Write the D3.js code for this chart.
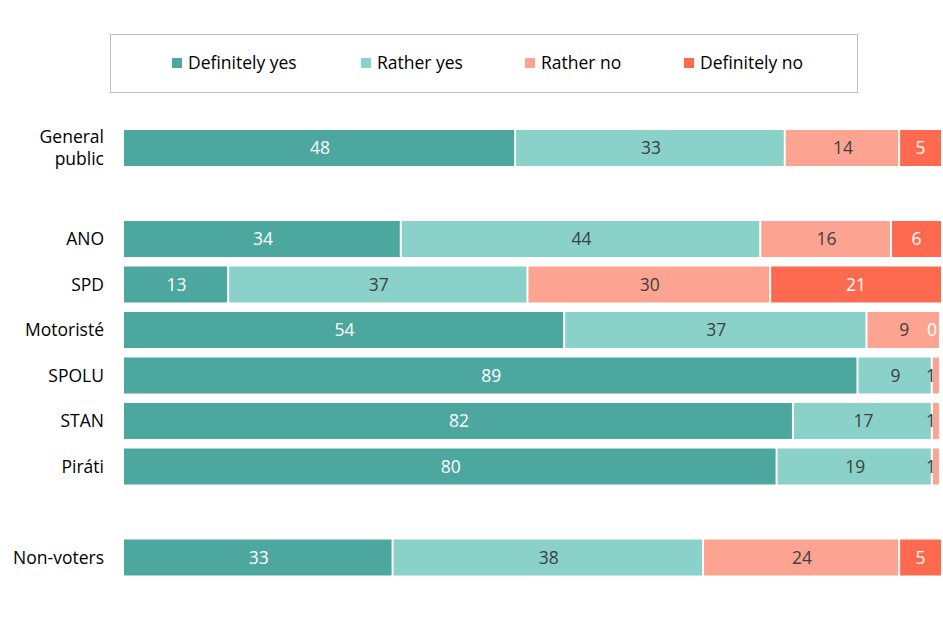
<!DOCTYPE html><html><head><meta charset="utf-8"><script src="https://cdn.jsdelivr.net/npm/d3@7"></script>
<style>body{margin:0;background:#fff}text{font-family:"Open Sans","Liberation Sans",sans-serif}</style></head><body>
<svg id="c" width="943" height="640"></svg>
<script>
const categories=[["General","public"],["ANO"],["SPD"],["Motoristé"],["SPOLU"],["STAN"],["Piráti"],["Non-voters"]];
const slots=[0,2,3,4,5,6,7,9];
const series=["Definitely yes","Rather yes","Rather no","Definitely no"];
const definitelyYes=[48,34,13,54,89,82,80,33];
const ratherYes=[33,44,37,37,9,17,19,38];
const ratherNo=[14,16,30,9,1,1,1,24];
const definitelyNo=[5,6,21,0,0,0,0,5];
const showZero=[false,false,false,true,false,false,false,false];
const colors=["#4ca79f","#8ad1ca","#fca491","#fe6a4f"];
const textColors=["#fff","#404040","#404040","#fff"];
const svg=d3.select("#c");
const x=d3.scaleLinear().domain([0,1]).range([124,941]);
const y=d3.scaleBand().domain(d3.range(10)).range([130,575.5]).paddingInner(0.209).paddingOuter(0);
const vals=[definitelyYes,ratherYes,ratherNo,definitelyNo];
const fs=17.5;
categories.forEach((cat,i)=>{
  const v=vals.map(a=>a[i]);const tot=d3.sum(v);
  const yy=y(slots[i]),h=y.bandwidth(),cy=yy+h/2;
  let cum=0;
  v.forEach((d,j)=>{
    const x0=x(cum/tot),x1=x((cum+d)/tot);cum+=d;
    if(d>0)svg.append("rect").attr("x",x0).attr("y",yy).attr("width",Math.max(0,x1-x0-(j<3?2:0))).attr("height",h).attr("fill",colors[j]);
    if(d>0||showZero[i]){
      const small=d<=1;
      svg.append("text").attr("x",small?(d===0?937:x1-5):(x0+x1)/2).attr("y",cy).attr("dy","0.36em")
        .attr("text-anchor",small?"end":"middle").attr("font-size",fs).attr("fill",textColors[j]).text(d);
    }
  });
  const t=svg.append("text").attr("x",104).attr("text-anchor","end").attr("font-size",fs).attr("fill","#000");
  cat.forEach((s,k)=>t.append("tspan").attr("x",104).attr("y",cy+(k-(cat.length-1)/2)*22).attr("dy","0.36em").text(s));
});
svg.append("rect").attr("x",110.5).attr("y",34.5).attr("width",747).attr("height",58).attr("fill","none").attr("stroke","#bfbfbf");
const lx=[172,361,525,684];
series.forEach((s,j)=>{
  svg.append("rect").attr("x",lx[j]).attr("y",58).attr("width",10).attr("height",10).attr("fill",colors[j]);
  svg.append("text").attr("x",lx[j]+16).attr("y",63).attr("dy","0.36em").attr("font-size",fs).attr("fill","#000").text(s);
});
</script></body></html>
